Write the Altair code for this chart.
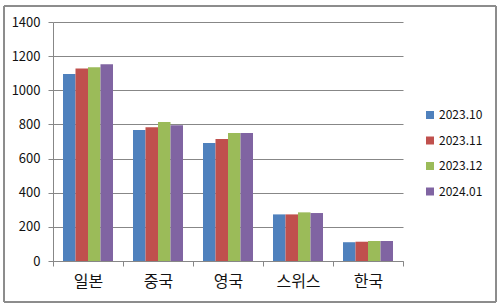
import altair as alt
import pandas as pd

countries = ["일본", "중국", "영국", "스위스", "한국"]
periods = ["2023.10", "2023.11", "2023.12", "2024.01"]
v_2023_10 = [1095, 767, 691, 273, 110]
v_2023_11 = [1127, 783, 715, 273, 113]
v_2023_12 = [1135, 814, 750, 285, 117]
v_2024_01 = [1152, 795, 750, 281, 117]
colors = ["#4F81BD", "#C0504D", "#9BBB59", "#8064A2"]

series = [v_2023_10, v_2023_11, v_2023_12, v_2024_01]
rows = []
for p, vals in zip(periods, series):
    for c, v in zip(countries, vals):
        rows.append({"country": c, "period": p, "value": v})
df = pd.DataFrame(rows)

FONT = "Noto Sans CJK KR"
GRID = "#878787"
TXT = "#111111"

bars = alt.Chart(df).mark_bar().encode(
    x=alt.X("country:N", sort=countries, title=None,
            scale=alt.Scale(paddingInner=0, paddingOuter=0),
            axis=alt.Axis(labelAngle=0, tickBand="extent", domainColor=GRID,
                          tickColor=GRID, tickSize=5, labelPadding=7,
                          labelFontSize=16, labelColor=TXT, labelFont=FONT)),
    xOffset=alt.XOffset("period:N", sort=periods,
                        scale=alt.Scale(paddingInner=0, paddingOuter=0.8)),
    y=alt.Y("value:Q", title=None,
            scale=alt.Scale(domain=[0, 1400], nice=False),
            axis=alt.Axis(values=[0, 200, 400, 600, 800, 1000, 1200, 1400],
                          format="d",
                          grid=True, gridColor=GRID, domainColor=GRID,
                          tickColor=GRID, tickSize=5, labelPadding=8,
                          labelFontSize=13, labelColor=TXT, labelFont=FONT)),
    color=alt.Color("period:N", sort=periods,
                    scale=alt.Scale(domain=periods, range=colors),
                    legend=alt.Legend(title=None, orient="none", legendX=371, legendY=87,
                                      symbolType="square", symbolSize=64,
                                      symbolStrokeWidth=0, labelFontSize=12,
                                      labelFont=FONT, labelColor=TXT,
                                      rowPadding=13.5, labelOffset=3)),
)

frame = alt.Chart(df).mark_rect(fill=None, stroke="#8c8c8c", strokeWidth=1).encode(
    x=alt.value(-49), x2=alt.value(443), y=alt.value(-16), y2=alt.value(280)
)

chart = alt.layer(bars, frame).properties(
    width=350, height=239,
    autosize=alt.AutoSizeParams(type="none"),
    padding={"left": 53, "top": 22, "right": 97, "bottom": 47},
    background="white",
).configure_view(stroke=None)

chart.save("out.html", embed_options={"renderer": "svg", "actions": False})
